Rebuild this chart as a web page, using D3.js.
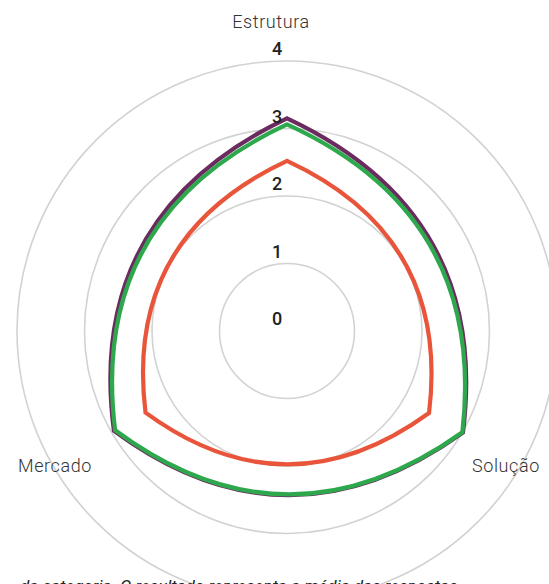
<!DOCTYPE html>
<html>
<head>
<meta charset="utf-8">
<script src="https://cdn.jsdelivr.net/npm/d3@7"></script>
<style>
  html, body { margin: 0; padding: 0; background: #fff; }
  svg { display: block; font-family: Roboto, "Noto Sans", sans-serif; }
</style>
</head>
<body>
<svg id="chart" width="549" height="584"></svg>
<script>
// Radar axes, clockwise from the top
const axes = ["Estrutura", "Solução", "Mercado"];
const radialTicks = [0, 1, 2, 3, 4];

// Scores per series, in the same order as the axes
const seriesNames = ["Série A", "Série B", "Série C"];
const purpleValues = [3.15, 3.01, 2.96];
const greenValues = [3.06, 3.0, 2.94];
const redValues = [2.52, 2.43, 2.42];

const footnote = "da categoria. O resultado representa a média das respostas";

const svg = d3.select("#chart");
const cx = 287, cy = 331;
const rScale = d3.scaleLinear().domain([0, 4]).range([0, 270]);
const aScale = d3.scalePoint().domain(axes.concat("_end")).range([0, 2 * Math.PI]);

const g = svg.append("g").attr("transform", `translate(${cx},${cy})`);

// concentric grid
g.selectAll("circle.grid")
  .data(radialTicks.slice(1))
  .join("circle")
  .attr("class", "grid")
  .attr("r", d => rScale(d))
  .attr("fill", "none")
  .attr("stroke", "#d2d2d2")
  .attr("stroke-width", 1.6);

// point on an axis
function polar(angle, r) {
  return [r * Math.sin(angle), -r * Math.cos(angle)];
}

// closed outline: each side bows outward between neighbouring axes
function outline(values) {
  const p = d3.path();
  const n = axes.length;
  const bow = 1.13;
  values.forEach((v, i) => {
    const a0 = aScale(axes[i]);
    const [x0, y0] = polar(a0, rScale(v));
    if (i === 0) p.moveTo(x0, y0);
    const j = (i + 1) % n;
    const a1 = i + 1 < n ? aScale(axes[j]) : 2 * Math.PI;
    const v1 = values[j];
    const [x1, y1] = polar(a1, rScale(v1));
    const [qx, qy] = polar((a0 + a1) / 2, bow * (rScale(v) + rScale(v1)) / 2);
    p.quadraticCurveTo(qx, qy, x1, y1);
  });
  p.closePath();
  return p.toString();
}

const series = [
  { name: seriesNames[0], values: purpleValues, color: "#6c2b5f" },
  { name: seriesNames[1], values: greenValues, color: "#2ea84d" },
  { name: seriesNames[2], values: redValues, color: "#e9553b" }
];

g.selectAll("path.series")
  .data(series)
  .join("path")
  .attr("class", "series")
  .attr("d", d => outline(d.values))
  .attr("fill", "none")
  .attr("stroke", d => d.color)
  .attr("stroke-width", 4.2)
  .attr("stroke-linejoin", "miter");

// radial tick labels
g.selectAll("text.tick")
  .data(radialTicks)
  .join("text")
  .attr("class", "tick")
  .attr("x", -10)
  .attr("y", d => -rScale(d) - 6)
  .attr("text-anchor", "middle")
  .attr("font-size", 18)
  .attr("font-weight", 500)
  .attr("fill", "#222")
  .text(d => d);

// axis titles
const titlePlacement = {
  "Estrutura": { x: -16, y: -303, anchor: "middle" },
  "Solução": { x: 185, y: 141, anchor: "start" },
  "Mercado": { x: -195, y: 141, anchor: "end" }
};
g.selectAll("text.axis")
  .data(axes)
  .join("text")
  .attr("class", "axis")
  .attr("x", d => titlePlacement[d].x)
  .attr("y", d => titlePlacement[d].y)
  .attr("text-anchor", d => titlePlacement[d].anchor)
  .attr("font-size", 18)
  .attr("font-weight", 300)
  .attr("letter-spacing", 0.6)
  .attr("fill", "#333")
  .text(d => d);

svg.append("text")
  .attr("x", 20)
  .attr("y", 592)
  .attr("font-size", 17)
  .attr("font-style", "italic")
  .attr("fill", "#222")
  .text(footnote);
</script>
</body>
</html>
